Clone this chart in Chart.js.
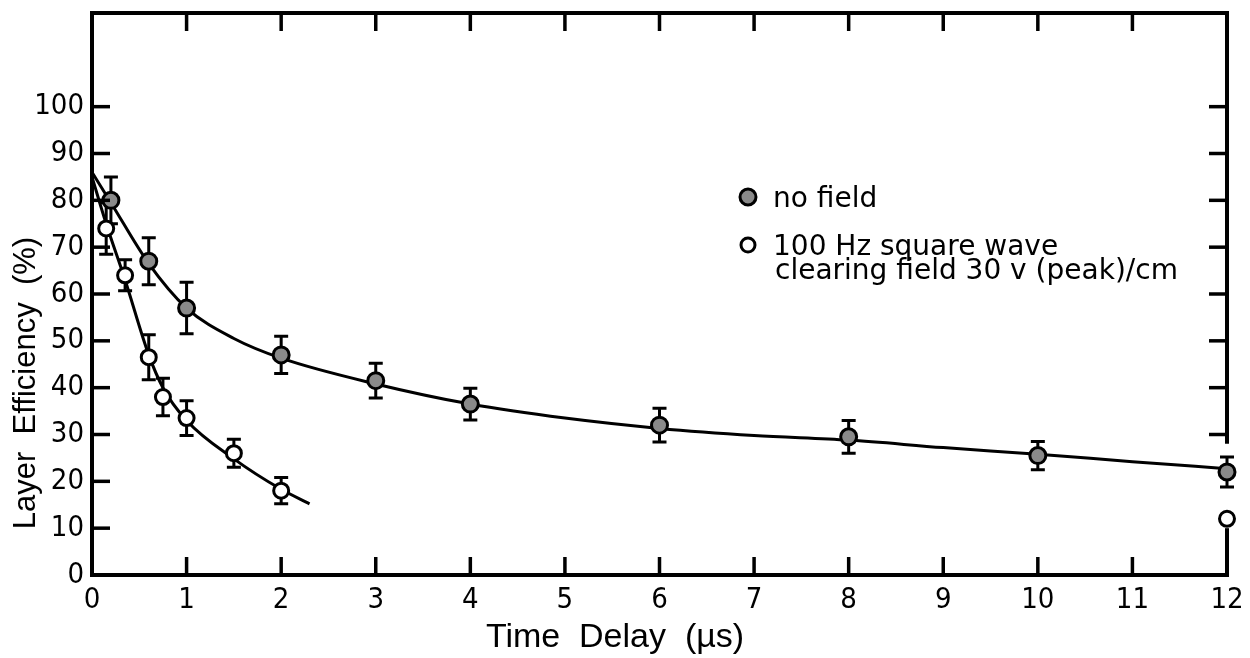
<!DOCTYPE html>
<html>
<head>
<meta charset="utf-8">
<script src="https://cdn.jsdelivr.net/npm/chart.js@4.4.0/dist/chart.umd.min.js"></script>
<style>
html,body{margin:0;padding:0;background:#fff;}
#wrap{width:1250px;height:658px;position:relative;}
</style>
</head>
<body>
<div id="wrap"><canvas id="c" width="1250" height="658"></canvas></div>
<script>
// ---- Data ----
const xTickValues = [0,1,2,3,4,5,6,7,8,9,10,11,12];
const yTickValues = [0,10,20,30,40,50,60,70,80,90,100];

// "no field" measurements (filled markers)
const noFieldX   = [0.2, 0.6, 1, 2, 3, 4, 6, 8, 10, 12];
const noFieldY   = [80, 67, 57, 47, 41.5, 36.5, 32, 29.5, 25.5, 22];
const noFieldErr = [5, 5, 5.5, 4, 3.7, 3.4, 3.6, 3.5, 3, 3.2];

// "100 Hz square wave clearing field" measurements (open markers)
const fieldX   = [0.15, 0.35, 0.6, 0.75, 1, 1.5, 2, 12];
const fieldY   = [74, 64, 46.5, 38, 33.5, 26, 18, 12];
const fieldErr = [5.5, 3.3, 4.8, 4, 3.7, 3, 2.8, 0];

// Hand-drawn fitted curves
const noFieldCurveX = [0, 0.2, 0.6, 1, 1.5, 2, 3, 4, 5, 6, 7, 8, 9, 10, 11, 12];
const noFieldCurveY = [86, 79.5, 66.5, 57, 50.5, 46.3, 40.8, 36.5, 33.5, 31.3, 29.8, 28.8, 27.2, 25.8, 24.2, 22.7];
const fieldCurveX = [0, 0.15, 0.35, 0.6, 0.75, 1, 1.5, 2, 2.3];
const fieldCurveY = [85, 75, 63, 47, 40, 33, 24.8, 18.3, 15.2];

const xTitle = 'Time  Delay  (\u00b5s)';
const yTitle = 'Layer  Efficiency  (%)';
const legendLabels = ['no field', '100 Hz square wave', 'clearing field 30 v (peak)/cm'];

const tickFont = '"Liberation Sans Narrow", "DejaVu Sans Condensed", "Liberation Sans", sans-serif';

function pts(xs, ys){ return xs.map((x,i)=>({x:x, y:ys[i]})); }

const errorBars = {
  id:'errorBars',
  beforeDatasetsDraw(chart){
    const ctx = chart.ctx, sx = chart.scales.x, sy = chart.scales.y;
    ctx.save();
    ctx.strokeStyle = '#000'; ctx.lineWidth = 3;
    const cap = 7;
    const draw = (xs, ys, es) => {
      xs.forEach((x,i)=>{
        const e = es[i]; if(!e) return;
        const px = sx.getPixelForValue(x);
        const top = sy.getPixelForValue(ys[i]+e), bot = sy.getPixelForValue(ys[i]-e);
        ctx.beginPath();
        ctx.moveTo(px, top); ctx.lineTo(px, bot);
        ctx.moveTo(px-cap, top); ctx.lineTo(px+cap, top);
        ctx.moveTo(px-cap, bot); ctx.lineTo(px+cap, bot);
        ctx.stroke();
      });
    };
    draw(noFieldX, noFieldY, noFieldErr);
    draw(fieldX, fieldY, fieldErr);
    ctx.restore();
  }
};

const inwardTicks = {
  id:'inwardTicks',
  afterDraw(chart){
    const ctx = chart.ctx, a = chart.chartArea, sx = chart.scales.x, sy = chart.scales.y;
    const L = 18;
    ctx.save();
    ctx.strokeStyle = '#000'; ctx.lineWidth = 3.5;
    const line = (x1,y1,x2,y2)=>{ctx.beginPath();ctx.moveTo(x1,y1);ctx.lineTo(x2,y2);ctx.stroke();};
    xTickValues.forEach(v=>{
      if(v<=0 || v>=12) return;
      const px = sx.getPixelForValue(v);
      line(px, a.bottom, px, a.bottom-L);
      line(px, a.top, px, a.top+L);
    });
    yTickValues.forEach(v=>{
      if(v<=0) return;
      const py = sy.getPixelForValue(v);
      line(a.left, py, a.left+L, py);
      if(v>=30) line(a.right, py, a.right-L, py);
    });
    // right frame: broken in the original between the 12 µs markers
    ctx.lineWidth = 4;
    line(a.right, a.top-2, a.right, sy.getPixelForValue(28));
    line(a.right, sy.getPixelForValue(10), a.right, a.bottom+2);
    ctx.restore();
  }
};

const annotations = {
  id:'annotations',
  afterDraw(chart){
    const ctx = chart.ctx;
    ctx.save();
    ctx.fillStyle = '#000';
    // y axis title
    ctx.save();
    ctx.translate(26, 383);
    ctx.rotate(-Math.PI/2);
    ctx.textAlign = 'center'; ctx.textBaseline = 'middle';
    ctx.font = '31px "Liberation Sans", sans-serif';
    ctx.fillText(yTitle, 0, 0);
    ctx.restore();
    // x axis title
    ctx.textAlign = 'center'; ctx.textBaseline = 'alphabetic';
    ctx.font = '34px "Liberation Sans", sans-serif';
    ctx.fillText(xTitle, 615, 647);
    // legend
    ctx.textAlign = 'left';
    ctx.font = '28px "DejaVu Sans", sans-serif';
    ctx.lineWidth = 3; ctx.strokeStyle = '#000';
    ctx.beginPath(); ctx.arc(748, 197, 8, 0, Math.PI*2); ctx.fillStyle = '#8a8a8a'; ctx.fill(); ctx.stroke();
    ctx.beginPath(); ctx.arc(748, 245, 7, 0, Math.PI*2); ctx.fillStyle = '#fff'; ctx.fill(); ctx.stroke();
    ctx.fillStyle = '#000';
    ctx.fillText(legendLabels[0], 773, 207);
    ctx.fillText(legendLabels[1], 773, 255);
    ctx.fillText(legendLabels[2], 775, 279);
    ctx.restore();
  }
};

const borderOpt = {display:true, color:'#000', width:4};

new Chart(document.getElementById('c'), {
  type:'scatter',
  data:{
    datasets:[
      {label:'no field', data:pts(noFieldX,noFieldY), showLine:false, pointRadius:8, pointBorderWidth:3,
       pointBackgroundColor:'#8a8a8a', pointBorderColor:'#000', order:0, clip:false},
      {label:'100 Hz square wave clearing field 30 v (peak)/cm', data:pts(fieldX,fieldY), showLine:false, pointRadius:7.5, pointBorderWidth:3,
       pointBackgroundColor:'#fff', pointBorderColor:'#000', order:0, clip:false},
      {label:'no field fit', data:pts(noFieldCurveX,noFieldCurveY), showLine:true, pointRadius:0, borderColor:'#000',
       borderWidth:3, cubicInterpolationMode:'monotone', fill:false, order:1},
      {label:'field fit', data:pts(fieldCurveX,fieldCurveY), showLine:true, pointRadius:0, borderColor:'#000',
       borderWidth:3, cubicInterpolationMode:'monotone', fill:false, order:1}
    ]
  },
  options:{
    responsive:false,
    animation:false,
    devicePixelRatio:1,
    layout:{padding:0},
    plugins:{legend:{display:false}, tooltip:{enabled:false}},
    scales:{
      x:{type:'linear', position:'bottom', min:0, max:12,
         afterFit:s=>{s.height=83; s.paddingLeft=0; s.paddingRight=0;},
         afterBuildTicks:s=>{s.ticks = xTickValues.map(v=>({value:v}));},
         ticks:{color:'#000', font:{family:tickFont, size:29}, padding:0, maxRotation:0, autoSkip:false, callback:v=>String(v)},
         grid:{display:false}, border:borderOpt},
      x2:{type:'linear', position:'top', min:0, max:12,
         afterFit:s=>{s.height=13; s.paddingLeft=0; s.paddingRight=0;},
         ticks:{display:false}, grid:{display:false}, border:borderOpt},
      y:{type:'linear', position:'left', min:0, max:120,
         afterFit:s=>{s.width=92; s.paddingTop=0; s.paddingBottom=0;},
         afterBuildTicks:s=>{s.ticks = yTickValues.map(v=>({value:v}));},
         ticks:{color:'#000', font:{family:tickFont, size:29}, padding:0, autoSkip:false, callback:v=>String(v)},
         grid:{display:false}, border:borderOpt},
      y2:{type:'linear', position:'right', min:0, max:120,
         afterFit:s=>{s.width=23; s.paddingTop=0; s.paddingBottom=0;},
         ticks:{display:false}, grid:{display:false}, border:{display:false}}
    }
  },
  plugins:[errorBars, inwardTicks, annotations]
});
</script>
</body>
</html>
